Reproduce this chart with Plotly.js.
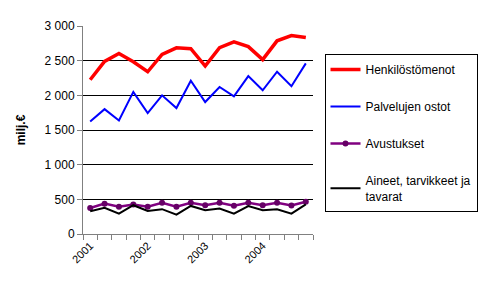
<!DOCTYPE html>
<html>
<head>
<meta charset="utf-8">
<script src="https://cdn.plot.ly/plotly-3.0.1.min.js"></script>
<style>html,body{margin:0;padding:0;background:#fff;}#chart{width:490px;height:288px;}</style>
</head>
<body>
<div id="chart"></div>
<script>
var quarters = ["2001 Q1","2001 Q2","2001 Q3","2001 Q4","2002 Q1","2002 Q2","2002 Q3","2002 Q4","2003 Q1","2003 Q2","2003 Q3","2003 Q4","2004 Q1","2004 Q2","2004 Q3","2004 Q4"];
var yearLabels = ["2001","2002","2003","2004"];
var henkilostomenot = [2225, 2490, 2605, 2485, 2340, 2590, 2685, 2672, 2422, 2688, 2770, 2702, 2515, 2786, 2862, 2833];
var palvelujenOstot = [1621, 1801, 1636, 2050, 1743, 2000, 1816, 2210, 1903, 2121, 1985, 2277, 2073, 2340, 2131, 2461];
var avustukset = [375, 438, 392, 425, 392, 450, 392, 450, 414, 450, 408, 450, 414, 450, 410, 465];
var aineet = [328, 377, 294, 415, 333, 358, 279, 405, 343, 368, 294, 402, 343, 358, 294, 426];

var xIdx = quarters.map(function(q, i){ return i; });
var yearTickVals = [0, 4, 8, 12];

var traces = [
  {x: xIdx, y: henkilostomenot, name: "Henkilöstömenot", mode: "lines", line: {color: "#ff0000", width: 3.5}, legendgroup: "a", text: quarters},
  {x: xIdx, y: palvelujenOstot, name: "Palvelujen ostot", mode: "lines", line: {color: "#0000ff", width: 2}, legendgroup: "b", text: quarters},
  {x: xIdx, y: avustukset, name: "Avustukset", mode: "lines+markers", line: {color: "#800080", width: 2.5}, marker: {color: "#660066", size: 6, symbol: "circle"}, legendgroup: "c", text: quarters},
  {x: xIdx, y: aineet, name: "Aineet, tarvikkeet ja<br>tavarat", mode: "lines", line: {color: "#000000", width: 2}, legendgroup: "d", text: quarters}
];

var layout = {
  width: 490, height: 288,
  margin: {l: 83, r: 174, t: 26, b: 54, pad: 0},
  paper_bgcolor: "#ffffff", plot_bgcolor: "#ffffff",
  font: {family: "Liberation Sans, Arial, sans-serif", size: 12, color: "#000"},
  separators: ", ",
  showlegend: true,
  legend: {
    x: 1.05, y: 0.865, xanchor: "left", yanchor: "top",
    bordercolor: "#000", borderwidth: 1, bgcolor: "#fff",
    font: {size: 12}, tracegroupgap: 18, traceorder: "grouped"
  },
  xaxis: {
    range: [-0.5, 15.5], tickmode: "array", tickvals: yearTickVals, ticktext: yearLabels,
    tickangle: -45, ticks: "", showgrid: false, zeroline: false,
    showline: true, linecolor: "#808080", linewidth: 1,
    tickfont: {size: 11},
    minor: {tick0: -0.5, dtick: 1, ticks: "outside", ticklen: 5, tickcolor: "#808080", tickwidth: 1, showgrid: false},
    fixedrange: true
  },
  yaxis: {
    range: [0, 3000], dtick: 500, tick0: 0, separatethousands: true,
    ticks: "outside", ticklen: 5, tickcolor: "#808080",
    showgrid: true, gridcolor: "#000", gridwidth: 1, zeroline: false,
    showline: true, linecolor: "#808080", linewidth: 1,
    tickfont: {size: 12},
    title: {text: "<b>milj.€</b>", font: {size: 12}, standoff: 16},
    fixedrange: true
  }
};

Plotly.newPlot("chart", traces, layout, {displayModeBar: false, staticPlot: true});
</script>
</body>
</html>
